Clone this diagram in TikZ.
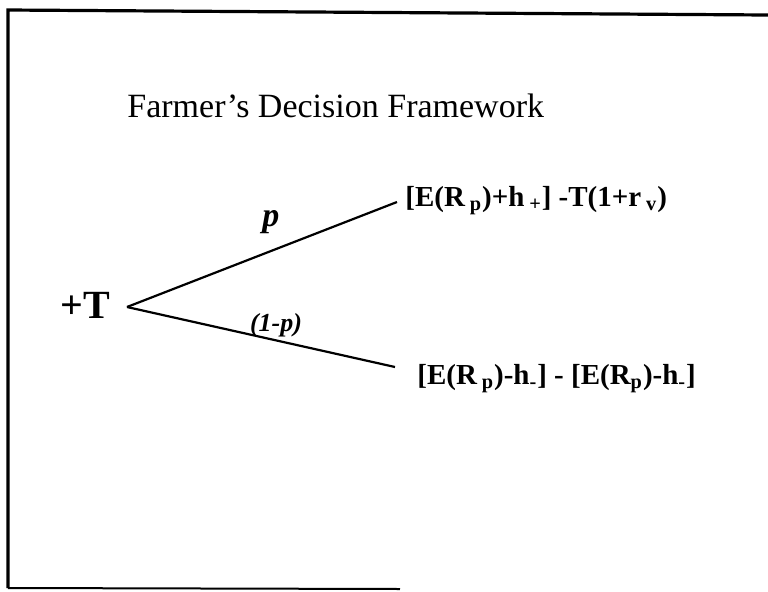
\documentclass[tikz,border=0pt]{standalone}
\usepackage{fontspec}
\setmainfont{Liberation Serif}
\usetikzlibrary{positioning}
\tikzset{
  frameline/.style={line width=1.6pt,black},
  branch/.style={line width=1.1pt,black},
  headline/.style={anchor=base west,inner sep=0pt,font=\fontsize{17}{19}\selectfont},
  rootbox/.style={anchor=base west,inner sep=0pt,font=\fontsize{20}{22}\selectfont\bfseries},
  payoff/.style={anchor=base west,inner sep=0pt,font=\fontsize{14.5}{16}\selectfont\bfseries},
  problabel/.style={inner sep=0pt,font=\bfseries\itshape},
}
\newcommand{\sbx}[1]{\textsubscript{#1}}

\begin{document}
\begin{tikzpicture}[x=0.5pt,y=-0.5pt]
  \useasboundingbox (0,0) rectangle (768,591);
  % frame
  \draw[frameline] (8,588) -- (8,10) -- (768,15);
  \draw[line width=1pt] (8,588) -- (400,589);

  \node[headline] (title) at (127,117) {Farmer's Decision Framework};

  \node[rootbox] (root) at (60,318) {+T};
  \coordinate (fork) at (127,307);
  \coordinate (upend) at (397,202);
  \coordinate (lowend) at (395,367);

  \node[payoff] (gain) at (405,206) {[E(R\,\sbx{p})+h\,\sbx{+}] -T(1+r\,\sbx{v})};
  \node[payoff] (loss) at (417,384) {[E(R\,\sbx{p})-h\sbx{-}] - [E(R\sbx{p})-h\sbx{-}]};

  \draw[branch] (fork) -- (upend);
  \draw[branch] (fork) -- (lowend);

  \node[problabel,font=\fontsize{17}{19}\selectfont\bfseries\itshape] (pup) at (271,222) {p};
  \node[problabel,font=\fontsize{13}{15}\selectfont\bfseries\itshape] (pdown) at (276,325) {(1-p)};
\end{tikzpicture}
\end{document}
